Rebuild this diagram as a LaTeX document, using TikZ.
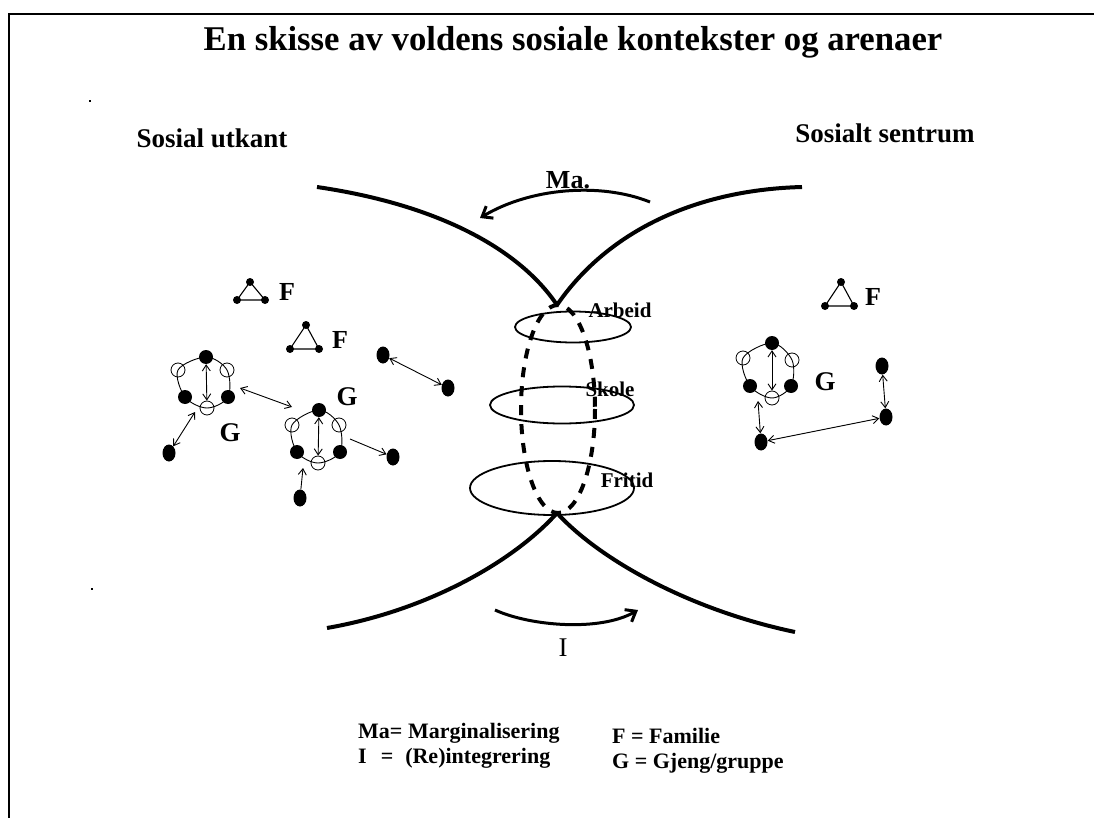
\documentclass[tikz,border=0pt]{standalone}
\usepackage{fontspec}
\setmainfont{Liberation Serif}
\usetikzlibrary{arrows.meta,shapes.geometric}
\begin{document}
\begin{tikzpicture}[x=1pt,y=-1pt,
  bdot/.style={circle,fill=black,inner sep=0pt,minimum size=14pt},
  odot/.style={circle,draw=black,line width=0.8pt,inner sep=0pt,minimum size=14pt},
  edot/.style={ellipse,fill=black,inner sep=0pt,minimum width=13pt,minimum height=17pt},
  vdot/.style={circle,fill=black,inner sep=0pt,minimum size=8pt},
  glbl/.style={font=\bfseries\fontsize{27}{30}\selectfont},
  flbl/.style={font=\bfseries\fontsize{26}{30}\selectfont},
  side/.style={font=\bfseries\fontsize{27}{30}\selectfont},
  arena/.style={font=\bfseries\fontsize{21}{24}\selectfont,inner sep=0pt},
  legend/.style={font=\bfseries\fontsize{22}{25}\selectfont,align=left,anchor=west,inner sep=0pt},
  ring/.style={line width=0.9pt},
  tri/.style={line width=1.1pt},
  rel/.style={line width=0.9pt,{Straight Barb[length=6pt,width=8pt]}-{Straight Barb[length=6pt,width=8pt]}},
  one/.style={line width=0.9pt,-{Straight Barb[length=6pt,width=8pt]}},
  bound/.style={line width=4pt},
  flow/.style={line width=3pt,-{Straight Barb[length=9pt,width=14pt,line width=3pt]}},
  arenaring/.style={line width=1.8pt},
  link/.style={line width=4pt,dash pattern=on 10pt off 9pt}
]
\useasboundingbox (0,0) rectangle (1094,818);
\fill[white] (0,0) rectangle (1094,818);
% frame
\draw[line width=2.2pt] (9,818) -- (9,14) -- (1094,14);
\fill (89,100) rectangle (91,102);
\fill (91,588) rectangle (93,590);

% title
\node[font=\bfseries\fontsize{34.7}{40}\selectfont] (title) at (573,42) {En skisse av voldens sosiale kontekster og arenaer};
\node[side] (utkant) at (212,138) {Sosial utkant};
\node[side] (sentrum) at (885,133) {Sosialt sentrum};

% boundary curves
\coordinate (apexT) at (557,305);
\coordinate (apexB) at (557,513);
\coordinate (tl) at (317,187);
\coordinate (tr) at (802,187);
\coordinate (bl) at (327,628);
\coordinate (br) at (795,632);
\draw[bound] (tl) .. controls (440,205) and (520,250) .. (apexT);
\draw[bound] (tr) .. controls (690,190) and (605,235) .. (apexT);
\draw[bound] (bl) .. controls (430,610) and (515,560) .. (apexB);
\draw[bound] (apexB) .. controls (600,560) and (690,610) .. (br);

% flows
\node[font=\bfseries\fontsize{26}{30}\selectfont] (ma) at (568,180) {Ma.};
\coordinate (maS) at (650,202);
\coordinate (maE) at (480,218);
\draw[flow] (maS) .. controls (600,182) and (530,188) .. (maE);
\node[font=\fontsize{27}{30}\selectfont] (ilbl) at (563,648) {I};
\coordinate (iS) at (495,610);
\coordinate (iE) at (638,610);
\draw[flow] (iS) .. controls (530,626) and (600,632) .. (iE);

% arenas
\draw[arenaring] (573,327) ellipse [x radius=58, y radius=15.5];
\draw[arenaring] (562,405) ellipse [x radius=72, y radius=18.5];
\draw[arenaring] (552,488) ellipse [x radius=82, y radius=27];
\draw[link] (558,409) ellipse [x radius=37, y radius=104];
\node[arena] (arbeid) at (620,310) {Arbeid};
\node[arena] (skole) at (610,389) {Skole};
\node[arena] (fritid) at (627,480) {Fritid};

% families
\node[vdot] (f1a) at (250,282) {};
\node[vdot] (f1b) at (237,300) {};
\node[vdot] (f1c) at (265,300) {};
\draw[tri] (f1a.center) -- (f1b.center) -- (f1c.center) -- cycle;
\node[flbl] (f1) at (287,292) {F};
\node[vdot] (f2a) at (306,325) {};
\node[vdot] (f2b) at (290,349) {};
\node[vdot] (f2c) at (319,349) {};
\draw[tri] (f2a.center) -- (f2b.center) -- (f2c.center) -- cycle;
\node[flbl] (f2) at (340,340) {F};
\node[vdot] (f3a) at (841,282) {};
\node[vdot] (f3b) at (825,306) {};
\node[vdot] (f3c) at (854,306) {};
\draw[tri] (f3a.center) -- (f3b.center) -- (f3c.center) -- cycle;
\node[flbl] (f3) at (873,297) {F};

% gang 1
\coordinate (g1tC) at (206,357);
\coordinate (g1roC) at (227,370);
\coordinate (g1rbC) at (228,397);
\coordinate (g1boC) at (207,408);
\coordinate (g1lbC) at (185,397);
\coordinate (g1loC) at (178,370);
\draw[ring] plot[smooth cycle,tension=0.55] coordinates {(g1tC) (g1roC) (g1rbC) (g1boC) (g1lbC) (g1loC)};
\node[bdot] (g1t) at (g1tC) {};
\node[odot] (g1ro) at (g1roC) {};
\node[bdot] (g1rb) at (g1rbC) {};
\node[odot] (g1bo) at (g1boC) {};
\node[bdot] (g1lb) at (g1lbC) {};
\node[odot] (g1lo) at (g1loC) {};
\draw[rel] (g1t) -- (g1bo);
\node[glbl] (g1) at (230,433) {G};

% gang 2
\coordinate (g2tC) at (319,410);
\coordinate (g2roC) at (339,425);
\coordinate (g2rbC) at (340,452);
\coordinate (g2boC) at (318,463);
\coordinate (g2lbC) at (297,452);
\coordinate (g2loC) at (292,425);
\draw[ring] plot[smooth cycle,tension=0.55] coordinates {(g2tC) (g2roC) (g2rbC) (g2boC) (g2lbC) (g2loC)};
\node[bdot] (g2t) at (g2tC) {};
\node[odot] (g2ro) at (g2roC) {};
\node[bdot] (g2rb) at (g2rbC) {};
\node[odot] (g2bo) at (g2boC) {};
\node[bdot] (g2lb) at (g2lbC) {};
\node[odot] (g2lo) at (g2loC) {};
\draw[rel] (g2t) -- (g2bo);
\node[glbl] (g2) at (347,397) {G};

% gang 3
\coordinate (g3tC) at (772,343);
\coordinate (g3roC) at (792,360);
\coordinate (g3rbC) at (791,386);
\coordinate (g3boC) at (772,398);
\coordinate (g3lbC) at (750,386);
\coordinate (g3loC) at (743,358);
\draw[ring] plot[smooth cycle,tension=0.55] coordinates {(g3tC) (g3roC) (g3rbC) (g3boC) (g3lbC) (g3loC)};
\node[bdot] (g3t) at (g3tC) {};
\node[odot] (g3ro) at (g3roC) {};
\node[bdot] (g3rb) at (g3rbC) {};
\node[odot] (g3bo) at (g3boC) {};
\node[bdot] (g3lb) at (g3lbC) {};
\node[odot] (g3lo) at (g3loC) {};
\draw[rel] (g3t) -- (g3bo);
\node[glbl] (g3) at (825,382) {G};

% individuals, left
\node[edot] (o1) at (169,453) {};
\node[edot] (o2) at (393,457) {};
\node[edot] (o3) at (300,498) {};
\node[edot] (p1) at (383,355) {};
\node[edot] (p2) at (448,388) {};
\coordinate (g1out) at (240,388);
\coordinate (g2in) at (292,407);
\coordinate (g1low) at (195,412);
\coordinate (g2out) at (350,439);
\coordinate (g2low) at (303,468);
\draw[rel] (g1out) -- (g2in);
\draw[rel] (g1low) -- (o1);
\draw[one] (g2out) -- (o2);
\draw[one] (o3) -- (g2low);
\draw[rel] (p1) -- (p2);

% individuals, right
\node[edot] (r1) at (761,442) {};
\node[edot] (r2) at (882,366) {};
\node[edot] (r3) at (886,417) {};
\coordinate (g3low) at (758,401);
\draw[rel] (g3low) -- (r1);
\draw[rel] (r2) -- (r3);
\draw[rel] (r1) -- (r3);

% legend
\node[legend] (legL) at (358,746) {Ma= Marginalisering\\I\hspace{14pt}=\hspace{12pt}(Re)integrering};
\node[legend] (legR) at (612,751) {F = Familie\\G = Gjeng/gruppe};
\end{tikzpicture}
\end{document}
